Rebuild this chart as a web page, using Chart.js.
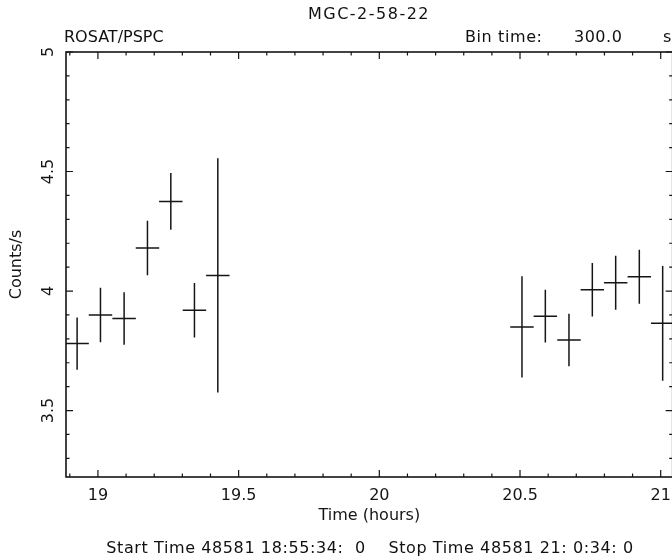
<!DOCTYPE html>
<html>
<head>
<meta charset="utf-8">
<script src="https://cdn.jsdelivr.net/npm/chart.js@4.4.1/dist/chart.umd.min.js"></script>
<style>
  html, body { margin: 0; padding: 0; background: #fff; overflow: hidden; }
  #wrap { position: relative; width: 680px; height: 560px; }
  .lbl { position: absolute; font-family: "DejaVu Sans", sans-serif; font-size: 16px; line-height: 16px; color: #111; white-space: pre; }
</style>
</head>
<body>
<div id="wrap">
  <canvas id="lc" width="680" height="560"></canvas>
  <div class="lbl" style="left:219px; top:6px; width:300px; text-align:center; letter-spacing:1.5px;">MGC-2-58-22</div>
  <div class="lbl" style="left:64px; top:29px;">ROSAT/PSPC</div>
  <div class="lbl" style="left:465px; top:29px; letter-spacing:0.6px;">Bin time:</div>
  <div class="lbl" style="left:574px; top:29px; letter-spacing:0.5px;">300.0</div>
  <div class="lbl" style="left:663px; top:29px;">s</div>
  <div class="lbl" style="left:70px; top:540px; width:600px; text-align:center; letter-spacing:0.6px;">Start Time 48581 18:55:34:  0    Stop Time 48581 21: 0:34: 0</div>
</div>
<script>
// light curve, 300 s bins (time in hours, rate in counts/s)
const times = [18.926, 19.009, 19.093, 19.176, 19.259, 19.343, 19.426,
               20.507, 20.590, 20.674, 20.757, 20.840, 20.924, 21.007];
const rates = [3.78, 3.90, 3.885, 4.18, 4.375, 3.92, 4.065,
               3.85, 3.895, 3.795, 4.005, 4.035, 4.06, 3.865];
const rateErrors = [0.109, 0.114, 0.11, 0.114, 0.119, 0.114, 0.49,
                    0.212, 0.11, 0.11, 0.112, 0.113, 0.113, 0.24];
const binTime = 300;
const xTicks = [19, 19.5, 20, 20.5, 21];
const yTicks = [3.5, 4, 4.5, 5];
const xRange = [18.8865, 21.0426];
const yRange = [3.222, 5];

const ink = '#151515';
const font = { family: 'DejaVu Sans', size: 16 };

const halfBin = binTime / 3600 / 2;
const xBars = [];
const yBars = [];
times.forEach((t, i) => {
  xBars.push({ x: t - halfBin, y: rates[i] }, { x: t + halfBin, y: rates[i] }, { x: t, y: null });
  yBars.push({ x: t, y: rates[i] - rateErrors[i] }, { x: t, y: rates[i] + rateErrors[i] }, { x: t, y: null });
});

// box round the plot with inward major/minor ticks
const frameTicks = {
  id: 'frameTicks',
  afterDatasetsDraw(chart) {
    const { ctx, chartArea: a, scales: { x, y } } = chart;
    ctx.save();
    ctx.strokeStyle = ink;
    ctx.lineWidth = 1.6;
    ctx.strokeRect(a.left, a.top, a.right - a.left, a.bottom - a.top);
    ctx.lineWidth = 1.2;
    ctx.beginPath();
    for (let k = Math.ceil(x.min * 10); k <= x.max * 10; k++) {
      const px = x.getPixelForValue(k / 10);
      const len = k % 5 === 0 ? 7 : 3.5;
      ctx.moveTo(px, a.bottom); ctx.lineTo(px, a.bottom - len);
      ctx.moveTo(px, a.top); ctx.lineTo(px, a.top + len);
    }
    for (let k = Math.ceil(y.min * 10); k <= y.max * 10; k++) {
      const py = y.getPixelForValue(k / 10);
      const len = k % 5 === 0 ? 7 : 3.5;
      ctx.moveTo(a.left, py); ctx.lineTo(a.left + len, py);
      ctx.moveTo(a.right, py); ctx.lineTo(a.right - len, py);
    }
    ctx.stroke();
    ctx.restore();
  }
};

const barStyle = {
  borderColor: ink,
  borderWidth: 1.5,
  pointRadius: 0,
  fill: false,
  spanGaps: false,
  tension: 0
};

new Chart(document.getElementById('lc'), {
  type: 'line',
  data: {
    datasets: [
      { label: 'time bin', data: xBars, ...barStyle },
      { label: 'rate error', data: yBars, ...barStyle }
    ]
  },
  options: {
    responsive: false,
    animation: false,
    devicePixelRatio: 1,
    layout: { padding: { top: 52, right: 6, bottom: 0, left: 0 } },
    plugins: { legend: { display: false }, tooltip: { enabled: false } },
    scales: {
      x: {
        type: 'linear',
        min: xRange[0],
        max: xRange[1],
        afterBuildTicks: s => { s.ticks = xTicks.map(v => ({ value: v })); },
        afterFit: s => { s.height = 83; },
        grid: { display: false, drawTicks: false },
        border: { display: false },
        ticks: { font, color: ink, padding: 9, autoSkip: false, maxRotation: 0, callback: v => String(v) },
        title: { display: true, text: 'Time (hours)', font, color: ink, padding: { top: 35, bottom: 35 } }
      },
      y: {
        type: 'linear',
        min: yRange[0],
        max: yRange[1],
        afterBuildTicks: s => { s.ticks = yTicks.map(v => ({ value: v })); },
        afterFit: s => { s.width = 66; },
        grid: { display: false, drawTicks: false },
        border: { display: false },
        ticks: { font, color: ink, padding: 4, minRotation: 90, maxRotation: 90, crossAlign: 'center', callback: v => String(v) },
        title: { display: true, text: 'Counts/s', font, color: ink, padding: { top: 7, bottom: 7 } }
      }
    }
  },
  plugins: [frameTicks]
});
</script>
</body>
</html>
